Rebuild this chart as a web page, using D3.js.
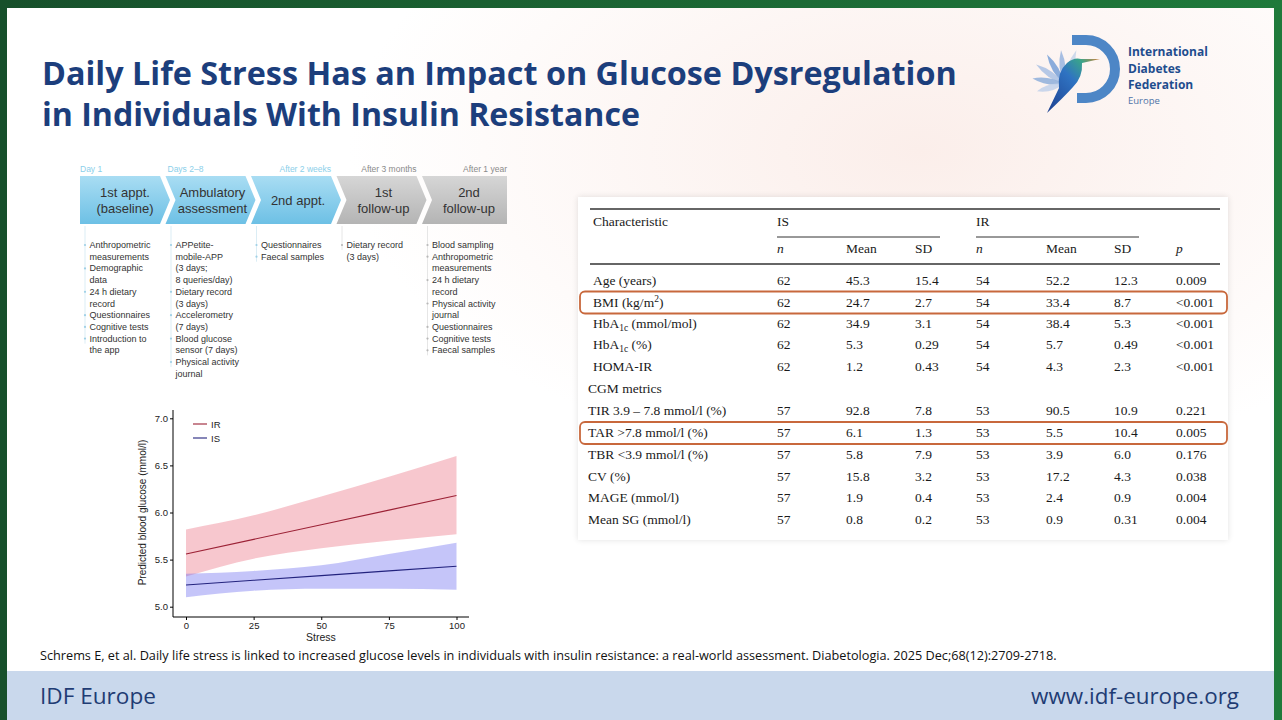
<!DOCTYPE html>
<html>
<head>
<meta charset="utf-8">
<title>Daily Life Stress and Glucose Dysregulation</title>
<script src="https://cdn.jsdelivr.net/npm/d3@7"></script>
<style>
  html, body { margin: 0; padding: 0; background: #1b5a31; }
  svg { display: block; }
</style>
</head>
<body>
<div id="slide"></div>
<script>
// ---- chart data ----
const stress = [0, 25, 50, 75, 100];
const irFit   = [5.56, 5.715, 5.87, 6.025, 6.18];
const irLower = [5.32, 5.51, 5.62, 5.70, 5.77];
const irUpper = [5.82, 5.97, 6.17, 6.38, 6.60];
const isFit   = [5.23, 5.28, 5.33, 5.38, 5.43];
const isLower = [5.10, 5.17, 5.19, 5.19, 5.18];
const isUpper = [5.35, 5.38, 5.44, 5.56, 5.68];
const groups = ["IR", "IS"];
const xTicks = [0, 25, 50, 75, 100];
const yTicks = [5.0, 5.5, 6.0, 6.5, 7.0];

// ---- study timeline ----
const phaseWhen = ["Day 1", "Days 2–8", "After 2 weeks", "After 3 months", "After 1 year"];
const phaseNames = [["1st appt.", "(baseline)"], ["Ambulatory", "assessment"], ["2nd appt."], ["1st", "follow-up"], ["2nd", "follow-up"]];
const phaseItems = [
  [["Anthropometric", "measurements"], ["Demographic", "data"], ["24 h dietary", "record"], ["Questionnaires"], ["Cognitive tests"], ["Introduction to", "the app"]],
  [["APPetite-", "mobile-APP", "(3 days;", "8 queries/day)"], ["Dietary record", "(3 days)"], ["Accelerometry", "(7 days)"], ["Blood glucose", "sensor (7 days)"], ["Physical activity", "journal"]],
  [["Questionnaires"], ["Faecal samples"]],
  [["Dietary record", "(3 days)"]],
  [["Blood sampling"], ["Anthropometric", "measurements"], ["24 h dietary", "record"], ["Physical activity", "journal"], ["Questionnaires"], ["Cognitive tests"], ["Faecal samples"]]
];

// ---- table ----
const tableGroups = ["IS", "IR"];
const tableCols = ["n", "Mean", "SD", "n", "Mean", "SD", "p"];
const rowLabels = ["Age (years)", "BMI (kg/m^{2})", "HbA_{1c} (mmol/mol)", "HbA_{1c} (%)", "HOMA-IR",
  "CGM metrics", "TIR 3.9 – 7.8 mmol/l (%)", "TAR >7.8 mmol/l (%)", "TBR <3.9 mmol/l (%)", "CV (%)", "MAGE (mmol/l)", "Mean SG (mmol/l)"];
const isN    = ["62", "62", "62", "62", "62", "", "57", "57", "57", "57", "57", "57"];
const isMean = ["45.3", "24.7", "34.9", "5.3", "1.2", "", "92.8", "6.1", "5.8", "15.8", "1.9", "0.8"];
const isSD   = ["15.4", "2.7", "3.1", "0.29", "0.43", "", "7.8", "1.3", "7.9", "3.2", "0.4", "0.2"];
const irN    = ["54", "54", "54", "54", "54", "", "53", "53", "53", "53", "53", "53"];
const irMean = ["52.2", "33.4", "38.4", "5.7", "4.3", "", "90.5", "5.5", "3.9", "17.2", "2.4", "0.9"];
const irSD   = ["12.3", "8.7", "5.3", "0.49", "2.3", "", "10.9", "10.4", "6.0", "4.3", "0.9", "0.31"];
const pVals  = ["0.009", "<0.001", "<0.001", "<0.001", "<0.001", "", "0.221", "0.005", "0.176", "0.038", "0.004", "0.004"];
const highlighted = ["BMI (kg/m^{2})", "TAR >7.8 mmol/l (%)"];

const citation = "Schrems E, et al. Daily life stress is linked to increased glucose levels in individuals with insulin resistance: a real-world assessment. Diabetologia. 2025 Dec;68(12):2709-2718.";

// ---- drawing ----
const W = 1282, H = 720;
const svg = d3.select("#slide").append("svg").attr("width", W).attr("height", H);
const defs = svg.append("defs");

function fitWidth(sel, target) {
  const w = sel.node().getComputedTextLength();
  const fs = parseFloat(sel.attr("font-size"));
  sel.attr("font-size", fs * target / w);
  return sel;
}

// frame + slide background
const frame = defs.append("linearGradient").attr("id", "frame");
frame.append("stop").attr("offset", 0).attr("stop-color", "#17502b");
frame.append("stop").attr("offset", 1).attr("stop-color", "#1f7a3b");
svg.append("rect").attr("width", W).attr("height", H).attr("fill", "url(#frame)");

const glow = defs.append("radialGradient").attr("id", "glow")
  .attr("cx", 0.72).attr("cy", 0.2).attr("r", 0.45);
glow.append("stop").attr("offset", 0).attr("stop-color", "#fbeeea");
glow.append("stop").attr("offset", 1).attr("stop-color", "#ffffff");
svg.append("rect").attr("x", 7).attr("y", 8).attr("width", 1267).attr("height", H - 8).attr("fill", "url(#glow)");

// title
const title = svg.append("g").attr("font-family", "'Open Sans', sans-serif").attr("font-weight", 700).attr("fill", "#1c3e7c");
fitWidth(title.append("text").attr("x", 42).attr("y", 85).attr("font-size", 30)
  .text("Daily Life Stress Has an Impact on Glucose Dysregulation"), 915);
fitWidth(title.append("text").attr("x", 42).attr("y", 126).attr("font-size", 30)
  .text("in Individuals With Insulin Resistance"), 598);

// logo
const logo = svg.append("g");
logo.append("path").attr("d", "M1072,40 L1086,40 A29,29 0 0 1 1086,98 L1077,98")
  .attr("fill", "none").attr("stroke", "#4d86c6").attr("stroke-width", 10);
const petals = [
  {a: -70, l: 36, c: "#c9d6ea"}, {a: -95, l: 34, c: "#9db8e0"}, {a: -120, l: 34, c: "#7ea4d8"},
  {a: -145, l: 34, c: "#aec3e4"}, {a: -170, l: 32, c: "#95b2dc"}, {a: 165, l: 28, c: "#c4d3ea"}
];
logo.selectAll("path.petal").data(petals).join("path").attr("class", "petal")
  .attr("transform", d => `translate(1064,84) rotate(${d.a})`)
  .attr("d", d => `M0,0 Q${d.l / 2},-6 ${d.l},0 Q${d.l / 2},6 0,0Z`)
  .attr("fill", d => d.c).attr("opacity", 0.9);
const body = defs.append("linearGradient").attr("id", "bird").attr("x1", 0).attr("y1", 1).attr("x2", 1).attr("y2", 0);
body.append("stop").attr("offset", 0).attr("stop-color", "#1d3f8f");
body.append("stop").attr("offset", 0.55).attr("stop-color", "#2f73c2");
body.append("stop").attr("offset", 0.8).attr("stop-color", "#3aa58a");
body.append("stop").attr("offset", 1).attr("stop-color", "#d9803a");
logo.append("path")
  .attr("d", "M1047,113 L1059,88 Q1057,72 1067,63 Q1074,57 1081,59 L1100,59 L1082,63 Q1083,77 1073,87 Q1064,97 1047,113Z")
  .attr("fill", "url(#bird)");
const logoText = logo.append("g").attr("font-family", "'Open Sans', sans-serif").attr("fill", "#1f4d8e")
  .attr("font-size", 12).attr("font-weight", 700);
["International", "Diabetes", "Federation"].forEach((t, k) => {
  logoText.append("text").attr("x", 1128).attr("y", 56 + k * 16.5).text(t);
});
logoText.append("text").attr("x", 1128).attr("y", 104).attr("font-size", 9.5).attr("font-weight", 400)
  .attr("fill", "#4f74a8").text("Europe");

// timeline
const tl = svg.append("g").attr("font-family", "'Liberation Sans', Arial, sans-serif");
const blueG = defs.append("linearGradient").attr("id", "chevBlue").attr("x1", 0).attr("y1", 0).attr("x2", 0).attr("y2", 1);
blueG.append("stop").attr("offset", 0).attr("stop-color", "#a9ddf3");
blueG.append("stop").attr("offset", 1).attr("stop-color", "#6dc0e5");
const greyG = defs.append("linearGradient").attr("id", "chevGrey").attr("x1", 0).attr("y1", 0).attr("x2", 0).attr("y2", 1);
greyG.append("stop").attr("offset", 0).attr("stop-color", "#d6d6d6");
greyG.append("stop").attr("offset", 1).attr("stop-color", "#b4b4b4");

const chevTop = 176, chevBot = 224, chevMid = 200, pitch = 85.5, bodyW = 80, tip = 10;
const nPhase = phaseNames.length;
function chevron(i) {
  const x0 = 80 + i * pitch, x1 = x0 + bodyW;
  const pts = [[x0, chevTop]];
  if (i === nPhase - 1) pts.push([x0 + bodyW + 5, chevTop], [x0 + bodyW + 5, chevBot]);
  else pts.push([x1, chevTop], [x1 + tip, chevMid], [x1, chevBot]);
  pts.push([x0, chevBot]);
  if (i > 0) pts.push([x0 + tip, chevMid]);
  return "M" + pts.join("L") + "Z";
}
phaseNames.forEach((names, i) => {
  const x0 = 80 + i * pitch, blue = i < 3;
  tl.append("path").attr("d", chevron(i)).attr("fill", blue ? "url(#chevBlue)" : "url(#chevGrey)");
  const cx = x0 + (i === 0 ? 45 : 47);
  names.forEach((t, k) => {
    tl.append("text").attr("x", cx).attr("y", names.length === 1 ? 205 : 197 + k * 16)
      .attr("text-anchor", "middle").attr("font-size", 13).attr("fill", "#333").text(t);
  });
  tl.append("text")
    .attr("x", i < 2 ? x0 + i * 2 : (i === nPhase - 1 ? x0 + bodyW + 5 : x0 + bodyW))
    .attr("y", 172).attr("text-anchor", i < 2 ? "start" : "end")
    .attr("font-size", 8.5).attr("fill", blue ? "#8bcfea" : "#8a8a8a").text(phaseWhen[i]);

  // item list
  const bx = x0 + 5 + (i > 0 ? 0.5 : 0), tx = bx + 4.5;
  let line = 0;
  const ys = [];
  phaseItems[i].forEach(item => {
    ys.push(248 + line * 11.7);
    item.forEach(t => {
      tl.append("text").attr("x", tx).attr("y", 248 + line * 11.7)
        .attr("font-size", 9).attr("fill", "#333").text(t);
      line++;
    });
  });
  tl.append("line").attr("x1", bx).attr("x2", bx).attr("y1", chevBot + 2).attr("y2", d3.max(ys) + 2)
    .attr("stroke", blue ? "#d2e9f3" : "#e0e0e0").attr("stroke-width", 0.8);
  tl.selectAll(null).data(ys).join("circle").attr("cx", bx).attr("cy", d => d - 3).attr("r", 1.1)
    .attr("fill", blue ? "#9fd0e6" : "#b8b8b8");
});

// line chart
const x = d3.scaleLinear().domain([0, 100]).range([186, 456.5]);
const y = d3.scaleLinear().domain([5, 7]).range([606.7, 418.3]);
const chart = svg.append("g").attr("font-family", "'Liberation Sans', Arial, sans-serif");

const band = d3.area().x(d => x(d[0])).y0(d => y(d[1])).y1(d => y(d[2])).curve(d3.curveMonotoneX);
const fitLine = d3.line().x(d => x(d[0])).y(d => y(d[1]));
chart.append("path").attr("d", band(d3.zip(stress, irLower, irUpper)))
  .attr("fill", "rgb(235,115,132)").attr("fill-opacity", 0.4);
chart.append("path").attr("d", band(d3.zip(stress, isLower, isUpper)))
  .attr("fill", "rgb(110,110,240)").attr("fill-opacity", 0.4);
const lineColor = {IR: "#9c2236", IS: "#23237e"};
chart.append("path").attr("d", fitLine(d3.zip(stress, irFit))).attr("fill", "none")
  .attr("stroke", lineColor.IR).attr("stroke-width", 1.1);
chart.append("path").attr("d", fitLine(d3.zip(stress, isFit))).attr("fill", "none")
  .attr("stroke", lineColor.IS).attr("stroke-width", 1.1);

const axL = 173, axB = 617;
chart.append("g").attr("transform", `translate(${axL},0)`)
  .call(d3.axisLeft(y).tickValues(yTicks).tickFormat(d3.format(".1f")).tickSize(3).tickPadding(2))
  .call(g => g.select(".domain").remove())
  .call(g => g.selectAll("text").attr("font-size", 9.5).attr("fill", "#222"));
chart.append("g").attr("transform", `translate(0,${axB})`)
  .call(d3.axisBottom(x).tickValues(xTicks).tickSize(3).tickPadding(2))
  .call(g => g.select(".domain").remove())
  .call(g => g.selectAll("text").attr("font-size", 9.5).attr("fill", "#222"));
chart.append("path").attr("d", `M${axL},410V${axB}H469`).attr("fill", "none").attr("stroke", "#000").attr("stroke-width", 1);
chart.append("text").attr("x", 321).attr("y", 641).attr("text-anchor", "middle")
  .attr("font-size", 10.5).attr("fill", "#222").text("Stress");
chart.append("text").attr("transform", `translate(146,${(y(5) + y(7)) / 2}) rotate(-90)`)
  .attr("text-anchor", "middle").attr("font-size", 10).attr("fill", "#222")
  .text("Predicted blood glucose (mmol/l)");
groups.forEach((gname, k) => {
  chart.append("line").attr("x1", 193).attr("x2", 207).attr("y1", 424 + k * 14).attr("y2", 424 + k * 14)
    .attr("stroke", lineColor[gname]).attr("stroke-width", 1.1);
  chart.append("text").attr("x", 211).attr("y", 427.5 + k * 14).attr("font-size", 9.5).attr("fill", "#222").text(gname);
});

// table
const shadow = defs.append("filter").attr("id", "soft").attr("x", -0.05).attr("y", -0.05).attr("width", 1.1).attr("height", 1.1);
shadow.append("feGaussianBlur").attr("in", "SourceAlpha").attr("stdDeviation", 3);
shadow.append("feComponentTransfer").append("feFuncA").attr("type", "linear").attr("slope", 0.12);
const fm = shadow.append("feMerge");
fm.append("feMergeNode");
fm.append("feMergeNode").attr("in", "SourceGraphic");
svg.append("rect").attr("x", 578).attr("y", 197).attr("width", 650).attr("height", 343)
  .attr("fill", "#fff").attr("filter", "url(#soft)");

const tbl = svg.append("g").attr("font-family", "'Liberation Serif', 'Times New Roman', serif")
  .attr("font-size", 13.5).attr("fill", "#1a1a1a");
const colX = [777, 846, 915, 976, 1046, 1114, 1176];
const rowY = [285, 306.5, 327.5, 349, 370.5, 393, 415, 437, 458.5, 480.5, 502, 523.5];

tbl.append("line").attr("x1", 590).attr("x2", 1220).attr("y1", 209).attr("y2", 209).attr("stroke", "#333").attr("stroke-width", 1.6);
tbl.append("line").attr("x1", 590).attr("x2", 1220).attr("y1", 264).attr("y2", 264).attr("stroke", "#333").attr("stroke-width", 1.6);
tbl.append("text").attr("x", 593).attr("y", 226).text("Characteristic");
tableGroups.forEach((gname, k) => {
  const x0 = colX[k * 3];
  tbl.append("text").attr("x", x0).attr("y", 226).text(gname);
  tbl.append("line").attr("x1", x0).attr("x2", x0 + 163).attr("y1", 237).attr("y2", 237).attr("stroke", "#333").attr("stroke-width", 1);
});
tableCols.forEach((c, k) => {
  tbl.append("text").attr("x", colX[k]).attr("y", 253)
    .attr("font-style", c.length === 1 ? "italic" : null).text(c);
});

// labels with _{sub} and ^{sup} parts
function richLabel(sel, label) {
  let shift = 0;
  label.split(/(_\{[^}]*\}|\^\{[^}]*\})/).filter(s => s).forEach(part => {
    if (part[0] === "_") {
      sel.append("tspan").attr("font-size", 9.5).attr("dy", 3 - shift).text(part.slice(2, -1));
      shift = 3;
    } else if (part[0] === "^") {
      sel.append("tspan").attr("font-size", 9.5).attr("dy", -5 - shift).text(part.slice(2, -1));
      shift = -5;
    } else {
      sel.append("tspan").attr("dy", shift ? -shift : null).text(part);
      shift = 0;
    }
  });
}
const cols = [isN, isMean, isSD, irN, irMean, irSD, pVals];
rowLabels.forEach((label, r) => {
  const t = tbl.append("text").attr("x", r < 5 ? 593 : 588).attr("y", rowY[r]);
  richLabel(t, label);
  cols.forEach((col, k) => {
    if (col[r]) tbl.append("text").attr("x", colX[k]).attr("y", rowY[r]).text(col[r]);
  });
  if (highlighted.includes(label)) {
    tbl.append("rect").attr("x", 580).attr("y", rowY[r] - 15).attr("width", 647).attr("height", 22)
      .attr("rx", 5).attr("fill", "none").attr("stroke", "#c8683c").attr("stroke-width", 1.8);
  }
});

// citation
fitWidth(svg.append("text").attr("x", 40).attr("y", 660).attr("font-size", 12)
  .attr("font-family", "'Liberation Sans Narrow', 'Open Sans', sans-serif").attr("fill", "#111").text(citation), 1017);

// footer
svg.append("rect").attr("x", 7).attr("y", 671).attr("width", 1267).attr("height", 49).attr("fill", "#c9d8ec");
const foot = svg.append("g").attr("font-family", "'Open Sans', sans-serif").attr("fill", "#1f3c74");
fitWidth(foot.append("text").attr("x", 40).attr("y", 704).attr("font-size", 21).text("IDF Europe"), 116);
fitWidth(foot.append("text").attr("x", 1239).attr("y", 704).attr("font-size", 21).attr("text-anchor", "end").text("www.idf-europe.org"), 208);
</script>
</body>
</html>
